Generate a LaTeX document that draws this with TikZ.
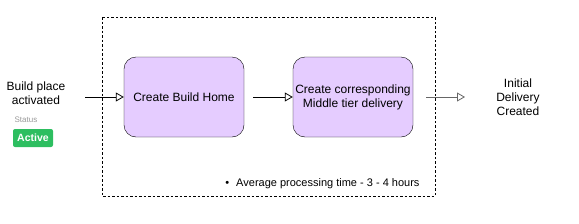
\documentclass[tikz,border=0pt]{standalone}
\usepackage{fontspec}
\setmainfont{Liberation Sans}
\usetikzlibrary{arrows.meta}
\definecolor{boxfill}{HTML}{E5CCFF}
\definecolor{badge}{HTML}{2DBE60}
\definecolor{graytext}{HTML}{999999}
\definecolor{grayline}{HTML}{666666}
\begin{document}
\begin{tikzpicture}[x=1pt,y=-1pt,
  procbox/.style={draw=black, fill=boxfill, rounded corners=12pt, minimum width=120pt, minimum height=80pt, align=center, font=\fontsize{12}{14}\selectfont, inner sep=1pt},
  lbl/.style={align=center, font=\fontsize{12}{14}\selectfont},
  flow/.style={draw, -{Triangle[open, length=8pt, width=9pt]}, line width=0.8pt}
]
\useasboundingbox (0,0) rectangle (579,223);
\draw[dashed, line width=0.7pt, dash pattern=on 2.5pt off 2pt] (102,17) rectangle (435,196);
\node[procbox] (b1) at (184,97) {Create Build Home};
\node[procbox] (b2) at (353,97) {Create corresponding\\Middle tier delivery};
\node[lbl] (src) at (36,93) {Build place\\activated};
\node[lbl] (dst) at (518,97) {Initial\\Delivery\\Created};
\node[font=\fontsize{8}{9}\selectfont, text=graytext] (status) at (26,120) {Status};
\node[fill=badge, rounded corners=2pt, minimum width=40pt, minimum height=18pt, inner sep=0pt, text=white, font=\fontsize{10.5}{12}\selectfont\bfseries] (active) at (33,138) {Active};
\node[font=\fontsize{11}{13}\selectfont, anchor=east] (avg) at (423,184) {\textbullet\hspace{7pt}Average processing time - 3 - 4 hours};
\coordinate (s1) at (85,97);
\coordinate (s3) at (426,97);
\coordinate (e3) at (465,97);
\draw[flow] (s1) -- (b1.west);
\draw[flow] (b1.east) ++(9,0) -- (b2.west);
\draw[flow, draw=grayline] (s3) -- (e3);
\end{tikzpicture}
\end{document}
